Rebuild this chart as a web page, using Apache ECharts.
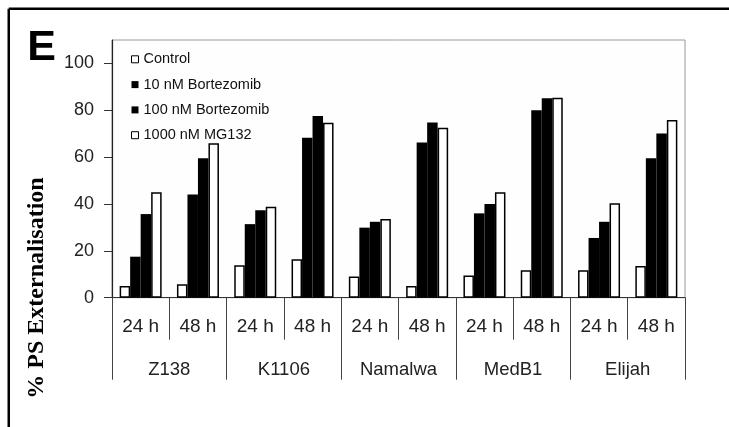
<!DOCTYPE html>
<html>
<head>
<meta charset="utf-8">
<script src="https://cdn.jsdelivr.net/npm/echarts@6/dist/echarts.min.js"></script>
<style>
html,body{margin:0;padding:0;background:#fff;}
#chart{width:729px;height:427px;}
</style>
</head>
<body>
<div id="chart"></div>
<script>
const timePoints = ['24 h','48 h','24 h','48 h','24 h','48 h','24 h','48 h','24 h','48 h'];
const cellLines = ['Z138','K1106','Namalwa','MedB1','Elijah'];
const seriesNames = ['Control','10 nM Bortezomib','100 nM Bortezomib','1000 nM MG132'];
const control = [5.0, 5.7, 13.9, 16.4, 9.0, 5.0, 9.5, 11.7, 11.7, 13.5];
const bort10  = [17.5, 44.1, 31.4, 68.3, 29.9, 66.3, 36.0, 80.0, 25.5, 59.5];
const bort100 = [35.7, 59.5, 37.3, 77.6, 32.4, 74.8, 40.0, 85.1, 32.4, 70.1];
const mg132   = [45.0, 65.9, 38.8, 74.7, 33.6, 72.5, 45.0, 85.3, 40.3, 75.8];
const yTicks = [0, 20, 40, 60, 80, 100];
const yMax = 110;

const chart = echarts.init(document.getElementById('chart'), null, {renderer:'canvas'});
const whiteStyle = {color:'#ffffff', borderColor:'#000000', borderWidth:1.5};
const blackStyle = {color:'#000000', borderColor:'#000000', borderWidth:0};
const styles = [whiteStyle, blackStyle, blackStyle, whiteStyle];
const values = [control, bort10, bort100, mg132];

chart.setOption({
  animation:false,
  backgroundColor:'#ffffff',
  grid:{left:112, top:40, width:573, height:257.7, show:true, borderColor:'#9a9a9a', borderWidth:1, backgroundColor:'#fefefe'},
  legend:{
    orient:'vertical', left:126, top:46.8, itemWidth:7, itemHeight:7, itemGap:10.3,
    textStyle:{fontFamily:'Liberation Sans, Arial', fontSize:14.5, lineHeight:15, color:'#111'},
    data: seriesNames.map((n,i)=>({name:n, icon:'rect', itemStyle: i===0||i===3 ? {color:'#fff', borderColor:'#000', borderWidth:1} : {color:'#000', borderWidth:0}}))
  },
  xAxis:[
    {type:'category', data:timePoints, position:'bottom',
     axisLine:{show:true, lineStyle:{color:'#333', width:1}},
     axisTick:{show:true, interval:0, length:42, lineStyle:{color:'#444', width:1}},
     axisLabel:{interval:0, margin:20, fontFamily:'Liberation Sans, Arial', fontSize:19, color:'#222'},
     splitLine:{show:false}},
    {type:'category', data:cellLines, position:'bottom', offset:0,
     axisLine:{show:false},
     axisTick:{show:true, interval:0, length:82, lineStyle:{color:'#444', width:1}},
     axisLabel:{interval:0, margin:63, fontFamily:'Liberation Sans, Arial', fontSize:18.5, color:'#222'},
     splitLine:{show:false}}
  ],
  yAxis:{type:'value', min:0, max:yMax,
    axisLine:{show:true, lineStyle:{color:'#222', width:1.2}},
    axisTick:{show:true, inside:false, length:8, customValues:yTicks, lineStyle:{color:'#333'}},
    axisLabel:{customValues:yTicks, margin:18, fontFamily:'Liberation Sans, Arial', fontSize:18, color:'#222'},
    splitLine:{show:false}},
  series: seriesNames.map((n,i)=>({
    name:n, type:'bar', xAxisIndex:0, data:values[i], barWidth:10.5, barGap:'0%',
    itemStyle:styles[i]
  })),
  graphic:[
    {type:'line', shape:{x1:8.75, y1:8.75, x2:729, y2:8.75}, style:{stroke:'#000', lineWidth:2.5}},
    {type:'line', shape:{x1:8.75, y1:8.75, x2:8.75, y2:427}, style:{stroke:'#000', lineWidth:2.5}},
    {type:'text', x:41.5, y:48, style:{text:'E', font:'bold 43px "Liberation Sans", Arial', fill:'#000', align:'center', verticalAlign:'middle'}},
    {type:'text', x:37, y:288, rotation:Math.PI/2, style:{text:'% PS Externalisation', font:'bold 24px "Liberation Serif", "Times New Roman"', fill:'#000', align:'center', verticalAlign:'middle'}}
  ]
});
</script>
</body>
</html>
